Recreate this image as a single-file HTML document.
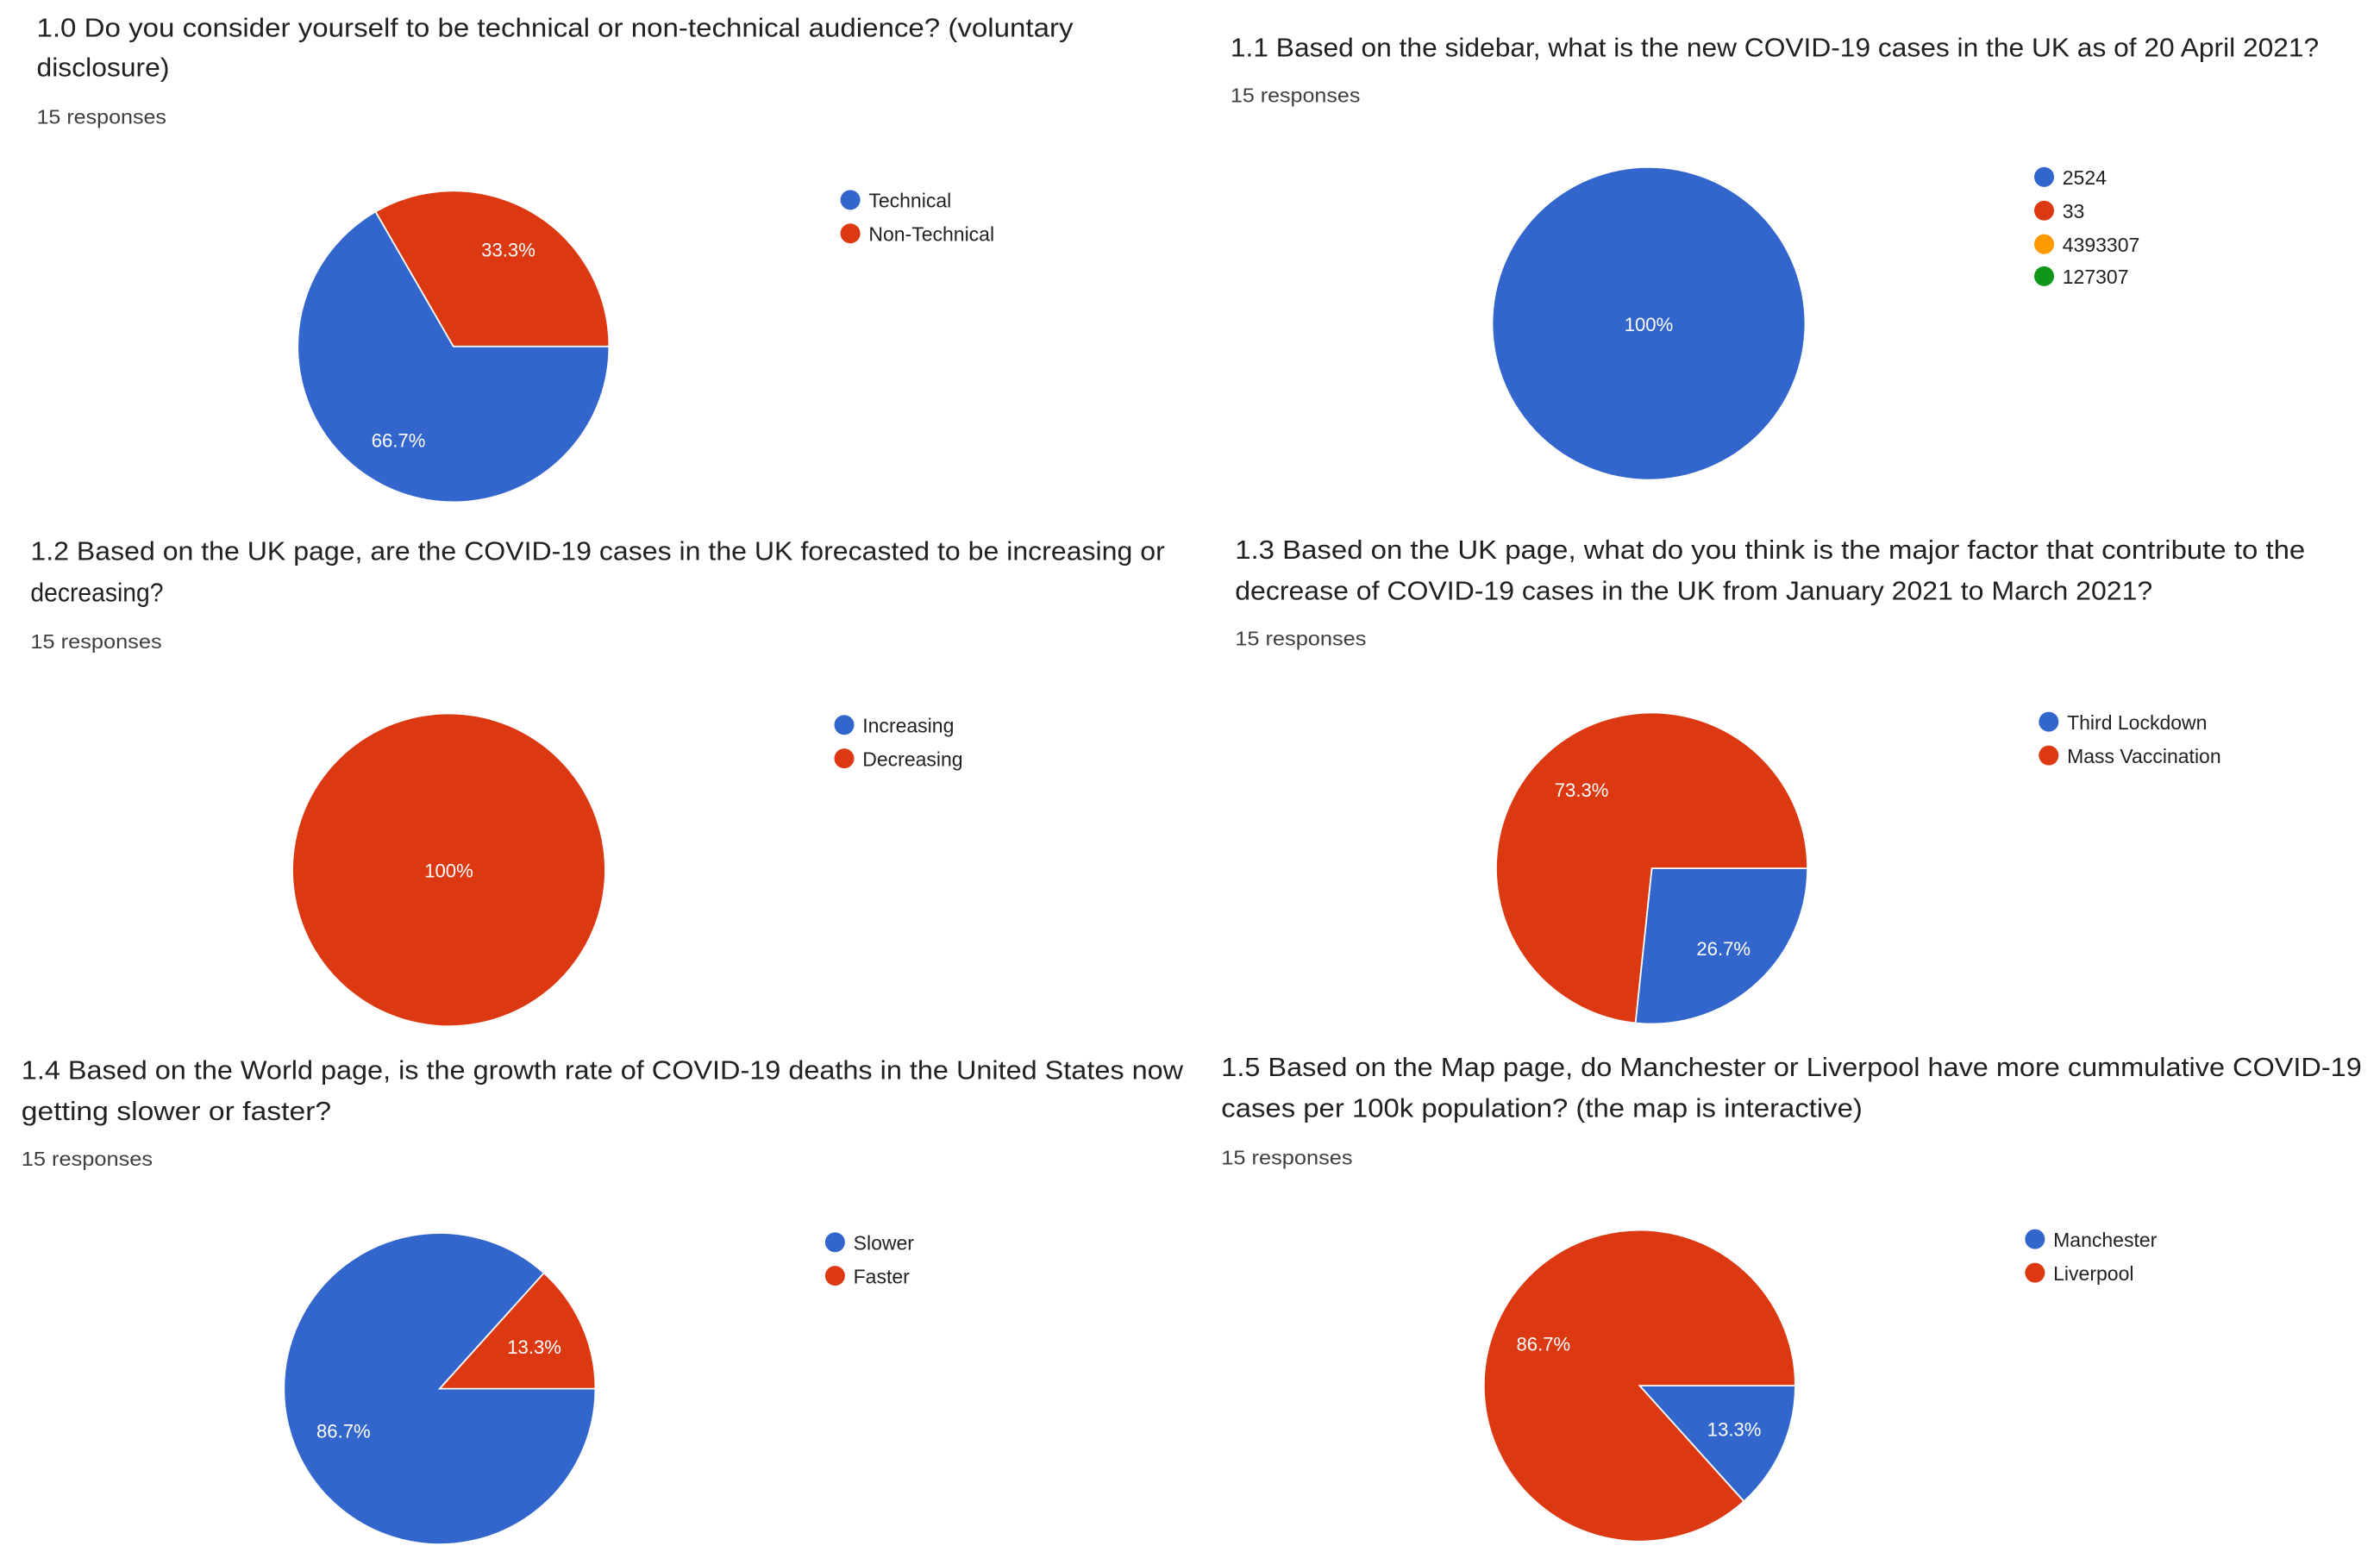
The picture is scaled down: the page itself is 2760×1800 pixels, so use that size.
<!DOCTYPE html>
<html><head><meta charset="utf-8"><style>
html,body{margin:0;padding:0;background:#fff;}
svg{display:block;}
text{font-family:"Liberation Sans",Arial,sans-serif;}
.t{font-size:17.5px;fill:#202124;}
.r{font-size:13px;fill:#3c4043;}
.l{font-size:13px;fill:#222;}
.p{font-size:12.5px;fill:#fff;text-anchor:middle;}
</style></head><body>
<svg width="2760" height="1800" viewBox="0 0 1559 1017" preserveAspectRatio="none" xmlns="http://www.w3.org/2000/svg">
<rect width="1559" height="1017" fill="#fff"/>
<!-- 1.0 -->
<text class="t" x="24" y="24" textLength="679" lengthAdjust="spacingAndGlyphs">1.0 Do you consider yourself to be technical or non-technical audience? (voluntary</text>
<text class="t" x="24" y="50" textLength="87" lengthAdjust="spacingAndGlyphs">disclosure)</text>
<text class="r" x="24" y="81" textLength="85" lengthAdjust="spacingAndGlyphs">15 responses</text>
<path d="M297 227 L399 227 A102 102 0 1 1 246 138.7 Z" fill="#3366cc" stroke="#fff" stroke-width="1"/>
<path d="M297 227 L246 138.7 A102 102 0 0 1 399 227 Z" fill="#dc3912" stroke="#fff" stroke-width="1"/>
<text class="p" x="333" y="168">33.3%</text>
<text class="p" x="261" y="293">66.7%</text>
<circle cx="557" cy="131" r="6.5" fill="#3366cc"/><text class="l" x="569" y="136">Technical</text>
<circle cx="557" cy="153" r="6.5" fill="#dc3912"/><text class="l" x="569" y="158">Non-Technical</text>
<!-- 1.1 -->
<text class="t" x="806" y="37" textLength="713" lengthAdjust="spacingAndGlyphs">1.1 Based on the sidebar, what is the new COVID-19 cases in the UK as of 20 April 2021?</text>
<text class="r" x="806" y="67" textLength="85" lengthAdjust="spacingAndGlyphs">15 responses</text>
<circle cx="1080" cy="212" r="102" fill="#3366cc"/>
<text class="p" x="1080" y="217">100%</text>
<circle cx="1339" cy="116" r="6.5" fill="#3366cc"/><text class="l" x="1351" y="121">2524</text>
<circle cx="1339" cy="138" r="6.5" fill="#dc3912"/><text class="l" x="1351" y="143">33</text>
<circle cx="1339" cy="160" r="6.5" fill="#ff9900"/><text class="l" x="1351" y="165">4393307</text>
<circle cx="1339" cy="181" r="6.5" fill="#109618"/><text class="l" x="1351" y="186">127307</text>
<!-- 1.2 -->
<text class="t" x="20" y="367" textLength="743" lengthAdjust="spacingAndGlyphs">1.2 Based on the UK page, are the COVID-19 cases in the UK forecasted to be increasing or</text>
<text class="t" x="20" y="394" textLength="87" lengthAdjust="spacingAndGlyphs">decreasing?</text>
<text class="r" x="20" y="425" textLength="86" lengthAdjust="spacingAndGlyphs">15 responses</text>
<circle cx="294" cy="570" r="102" fill="#dc3912"/>
<text class="p" x="294" y="575">100%</text>
<circle cx="553" cy="475" r="6.5" fill="#3366cc"/><text class="l" x="565" y="480">Increasing</text>
<circle cx="553" cy="497" r="6.5" fill="#dc3912"/><text class="l" x="565" y="502">Decreasing</text>
<!-- 1.3 -->
<text class="t" x="809" y="366" textLength="701" lengthAdjust="spacingAndGlyphs">1.3 Based on the UK page, what do you think is the major factor that contribute to the</text>
<text class="t" x="809" y="393" textLength="601" lengthAdjust="spacingAndGlyphs">decrease of COVID-19 cases in the UK from January 2021 to March 2021?</text>
<text class="r" x="809" y="423" textLength="86" lengthAdjust="spacingAndGlyphs">15 responses</text>
<path d="M1082 569 L1184 569 A102 102 0 0 1 1071.3 670.4 Z" fill="#3366cc" stroke="#fff" stroke-width="1"/>
<path d="M1082 569 L1071.3 670.4 A102 102 0 1 1 1184 569 Z" fill="#dc3912" stroke="#fff" stroke-width="1"/>
<text class="p" x="1036" y="522">73.3%</text>
<text class="p" x="1129" y="626">26.7%</text>
<circle cx="1342" cy="473" r="6.5" fill="#3366cc"/><text class="l" x="1354" y="478">Third Lockdown</text>
<circle cx="1342" cy="495" r="6.5" fill="#dc3912"/><text class="l" x="1354" y="500">Mass Vaccination</text>
<!-- 1.4 -->
<text class="t" x="14" y="707" textLength="761" lengthAdjust="spacingAndGlyphs">1.4 Based on the World page, is the growth rate of COVID-19 deaths in the United States now</text>
<text class="t" x="14" y="734" textLength="203" lengthAdjust="spacingAndGlyphs">getting slower or faster?</text>
<text class="r" x="14" y="764" textLength="86" lengthAdjust="spacingAndGlyphs">15 responses</text>
<path d="M288 910 L390 910 A102 102 0 1 1 356.3 834.2 Z" fill="#3366cc" stroke="#fff" stroke-width="1"/>
<path d="M288 910 L356.3 834.2 A102 102 0 0 1 390 910 Z" fill="#dc3912" stroke="#fff" stroke-width="1"/>
<text class="p" x="350" y="887">13.3%</text>
<text class="p" x="225" y="942">86.7%</text>
<circle cx="547" cy="814" r="6.5" fill="#3366cc"/><text class="l" x="559" y="819">Slower</text>
<circle cx="547" cy="836" r="6.5" fill="#dc3912"/><text class="l" x="559" y="841">Faster</text>
<!-- 1.5 -->
<text class="t" x="800" y="705" textLength="747" lengthAdjust="spacingAndGlyphs">1.5 Based on the Map page, do Manchester or Liverpool have more cummulative COVID-19</text>
<text class="t" x="800" y="732" textLength="420" lengthAdjust="spacingAndGlyphs">cases per 100k population? (the map is interactive)</text>
<text class="r" x="800" y="763" textLength="86" lengthAdjust="spacingAndGlyphs">15 responses</text>
<path d="M1074 908 L1176 908 A102 102 0 0 1 1142.3 983.8 Z" fill="#3366cc" stroke="#fff" stroke-width="1"/>
<path d="M1074 908 L1142.3 983.8 A102 102 0 1 1 1176 908 Z" fill="#dc3912" stroke="#fff" stroke-width="1"/>
<text class="p" x="1011" y="885">86.7%</text>
<text class="p" x="1136" y="941">13.3%</text>
<circle cx="1333" cy="812" r="6.5" fill="#3366cc"/><text class="l" x="1345" y="817">Manchester</text>
<circle cx="1333" cy="834" r="6.5" fill="#dc3912"/><text class="l" x="1345" y="839">Liverpool</text>
</svg>
</body></html>
